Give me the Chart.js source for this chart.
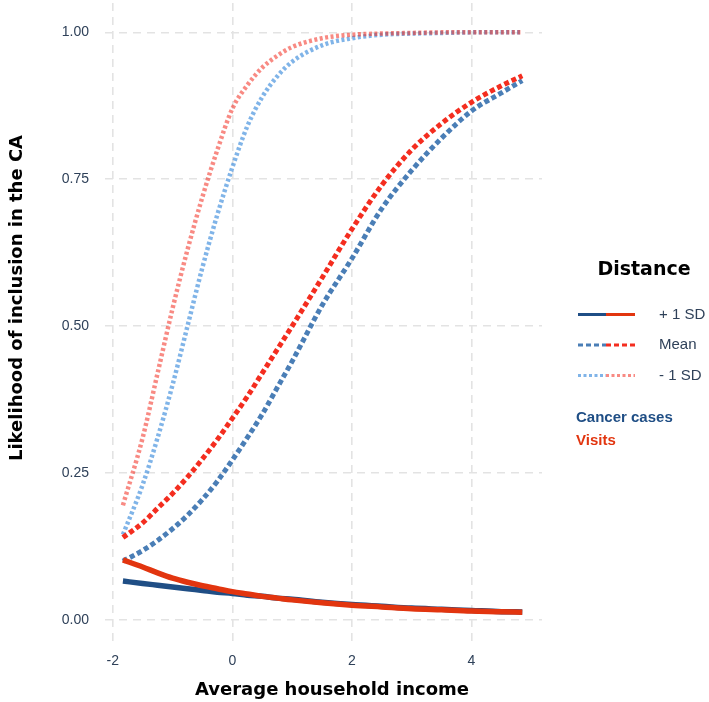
<!DOCTYPE html>
<html>
<head>
<meta charset="utf-8">
<script src="https://cdn.jsdelivr.net/npm/chart.js@4.4.1/dist/chart.umd.min.js"></script>
<style>
  html, body { margin: 0; padding: 0; background: #fff; }
  #wrap { width: 709px; height: 702px; position: relative; }
</style>
</head>
<body>
<div id="wrap"><canvas id="chart" width="709" height="702"></canvas></div>
<script>
// --- data ---
const income = [-1.83, -1.5, -1.25, -1, -0.75, -0.5, -0.25, 0, 0.25, 0.5, 0.75, 1, 1.5, 2, 2.5, 3, 3.5, 4, 4.5, 4.85];

const cancerPlus1 = [0.066, 0.062, 0.059, 0.056, 0.053, 0.050, 0.047, 0.045, 0.042, 0.040, 0.037, 0.035, 0.030, 0.026, 0.023, 0.020, 0.018, 0.016, 0.014, 0.0135];
const visitsPlus1 = [0.102, 0.090, 0.080, 0.071, 0.064, 0.058, 0.053, 0.048, 0.044, 0.040, 0.037, 0.034, 0.029, 0.025, 0.022, 0.019, 0.017, 0.015, 0.014, 0.013];

const cancerMean = [0.100, 0.118, 0.135, 0.155, 0.178, 0.205, 0.236, 0.272, 0.310, 0.350, 0.395, 0.440, 0.535, 0.615, 0.700, 0.765, 0.820, 0.866, 0.897, 0.918];
const visitsMean = [0.140, 0.165, 0.190, 0.215, 0.243, 0.274, 0.307, 0.343, 0.380, 0.420, 0.460, 0.500, 0.582, 0.665, 0.740, 0.800, 0.845, 0.881, 0.909, 0.926];

const cancerMinus1 = [0.145, 0.230, 0.310, 0.400, 0.500, 0.600, 0.690, 0.770, 0.840, 0.890, 0.925, 0.950, 0.978, 0.990, 0.996, 0.998, 0.999, 1.000, 1.000, 1.000];
const visitsMinus1 = [0.195, 0.310, 0.420, 0.530, 0.630, 0.720, 0.800, 0.870, 0.910, 0.940, 0.960, 0.975, 0.990, 0.996, 0.998, 0.999, 1.000, 1.000, 1.000, 1.000];

const xTicks = [-2, 0, 2, 4];
const yTicks = [0, 0.25, 0.5, 0.75, 1];
const distanceLabels = ['+ 1 SD', 'Mean', '- 1 SD'];
const outcomeLabels = ['Cancer cases', 'Visits'];
const xTitle = 'Average household income';
const yTitle = 'Likelihood of inclusion in the CA';

// --- styles ---
const styles = {
  plus:  { blue: '#1f4e85', red: '#e2350f', dash: [], width: 5.5 },
  mean:  { blue: '#4a7eb6', red: '#f42d1f', dash: [5, 3], width: 5 },
  minus: { blue: 'rgba(60,140,220,0.65)', red: 'rgba(242,42,30,0.55)', dash: [3, 2.5], width: 4.5 }
};
const textCol = '#2f4159';

function toPoints(arr) {
  return arr.map((v, i) => ({ x: income[i], y: v }));
}
function ds(label, arr, color, st) {
  return {
    label, data: toPoints(arr), borderColor: color, borderWidth: st.width,
    borderDash: st.dash, pointRadius: 0, fill: false,
    cubicInterpolationMode: 'monotone', borderCapStyle: 'butt'
  };
}

// first dataset is drawn on top
const datasets = [
  ds('Visits +1 SD', visitsPlus1, styles.plus.red, styles.plus),
  ds('Cancer +1 SD', cancerPlus1, styles.plus.blue, styles.plus),
  ds('Visits Mean', visitsMean, styles.mean.red, styles.mean),
  ds('Cancer Mean', cancerMean, styles.mean.blue, styles.mean),
  ds('Visits -1 SD', visitsMinus1, styles.minus.red, styles.minus),
  ds('Cancer -1 SD', cancerMinus1, styles.minus.blue, styles.minus)
];

// axis titles + the two-part legend on the right
const decorPlugin = {
  id: 'decor',
  afterDraw(chart) {
    const ctx = chart.ctx;
    ctx.save();
    ctx.textBaseline = 'middle';
    ctx.textAlign = 'center';
    ctx.fillStyle = '#000';
    ctx.font = 'bold 18px "DejaVu Sans"';
    ctx.fillText(xTitle, 332, 690);
    ctx.save();
    ctx.translate(17, 298);
    ctx.rotate(-Math.PI / 2);
    ctx.fillText(yTitle, 0, 0);
    ctx.restore();

    ctx.font = 'bold 19px "DejaVu Sans"';
    ctx.fillText('Distance', 644, 270);

    ['plus', 'mean', 'minus'].forEach((k, i) => {
      const st = styles[k];
      const y = 314.5 + i * 30.5;
      ctx.lineWidth = 3;
      ctx.setLineDash(st.dash);
      ctx.strokeStyle = st.blue;
      ctx.beginPath(); ctx.moveTo(578, y); ctx.lineTo(606, y); ctx.stroke();
      ctx.strokeStyle = st.red;
      ctx.beginPath(); ctx.moveTo(606, y); ctx.lineTo(635, y); ctx.stroke();
      ctx.setLineDash([]);
      ctx.fillStyle = textCol;
      ctx.textAlign = 'left';
      ctx.font = '15px "Liberation Sans"';
      ctx.fillText(distanceLabels[i], 659, y);
    });

    ctx.font = 'bold 15px "Liberation Sans"';
    ctx.textAlign = 'left';
    ctx.fillStyle = styles.plus.blue;
    ctx.fillText(outcomeLabels[0], 576, 418);
    ctx.fillStyle = styles.plus.red;
    ctx.fillText(outcomeLabels[1], 576, 441);
    ctx.restore();
  }
};

new Chart(document.getElementById('chart'), {
  type: 'line',
  data: { datasets },
  plugins: [decorPlugin],
  options: {
    responsive: false,
    devicePixelRatio: 1,
    animation: false,
    layout: { padding: { left: 0, top: 3, right: 167, bottom: 0 } },
    plugins: { legend: { display: false }, tooltip: { enabled: false } },
    scales: {
      x: {
        type: 'linear', min: -2.13, max: 5.18,
        afterBuildTicks: s => { s.ticks = xTicks.map(v => ({ value: v })); },
        afterFit: s => { s.height = 61; s.paddingLeft = 0; s.paddingRight = 0; },
        grid: { color: '#e3e3e3', lineWidth: 1.6, drawTicks: false },
        border: { display: false, dash: [8, 6] },
        ticks: { color: textCol, font: { family: 'Liberation Sans', size: 14 }, padding: 12 }
      },
      y: {
        type: 'linear', min: -0.036, max: 1.05,
        afterBuildTicks: s => { s.ticks = yTicks.map(v => ({ value: v })); },
        afterFit: s => { s.width = 105; s.paddingTop = 0; s.paddingBottom = 0; },
        grid: { color: '#e3e3e3', lineWidth: 1.6, drawTicks: false },
        border: { display: false, dash: [8, 6] },
        ticks: { color: textCol, font: { family: 'Liberation Sans', size: 14 }, padding: 16,
                 callback: v => v.toFixed(2) }
      }
    }
  }
});
</script>
</body>
</html>
